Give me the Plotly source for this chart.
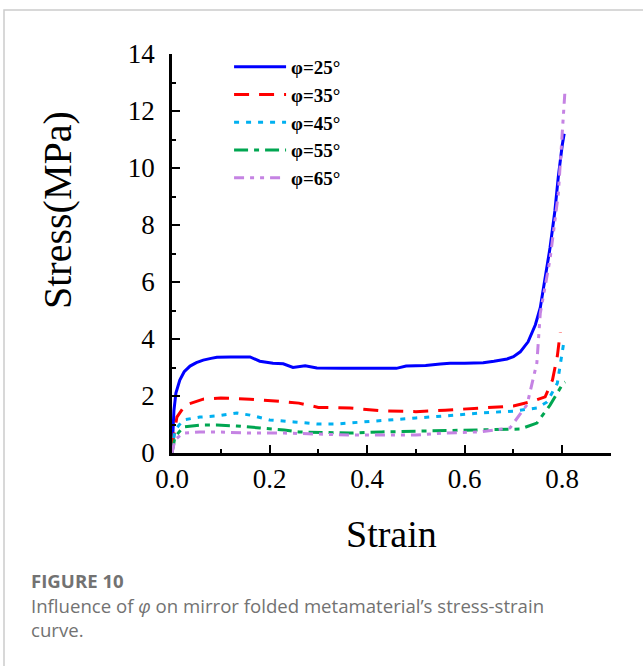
import plotly.graph_objects as go

# ---- data ----
names = ["φ=25°", "φ=35°", "φ=45°", "φ=55°", "φ=65°"]

x25 = [0.0, 0.004, 0.008, 0.016, 0.025, 0.037, 0.05, 0.064, 0.08, 0.092, 0.12, 0.16, 0.18, 0.207, 0.228, 0.248, 0.273, 0.297, 0.35, 0.40, 0.46, 0.48, 0.52, 0.55, 0.57, 0.60, 0.638, 0.66, 0.687, 0.70, 0.714, 0.73, 0.745, 0.755, 0.765, 0.775, 0.785, 0.792, 0.80, 0.804]
y25 = [0.0, 1.5, 2.1, 2.56, 2.85, 3.05, 3.17, 3.26, 3.32, 3.36, 3.37, 3.37, 3.22, 3.15, 3.13, 3.0, 3.06, 2.98, 2.97, 2.97, 2.97, 3.05, 3.07, 3.12, 3.15, 3.15, 3.17, 3.22, 3.3, 3.38, 3.55, 3.9, 4.5, 5.1, 6.1, 7.2, 8.5, 9.7, 10.8, 11.2]

x35 = [0.0, 0.01, 0.027, 0.064, 0.10, 0.13, 0.16, 0.23, 0.26, 0.30, 0.365, 0.43, 0.50, 0.56, 0.63, 0.70, 0.734, 0.765, 0.78, 0.79, 0.796]
y35 = [0.2, 1.26, 1.68, 1.89, 1.93, 1.92, 1.89, 1.8, 1.75, 1.6, 1.58, 1.48, 1.45, 1.5, 1.58, 1.65, 1.79, 1.97, 2.56, 3.4, 4.24]

x45 = [0.0, 0.006, 0.023, 0.057, 0.092, 0.133, 0.16, 0.20, 0.25, 0.297, 0.338, 0.39, 0.43, 0.50, 0.56, 0.63, 0.70, 0.748, 0.769, 0.79, 0.803]
y45 = [0.1, 0.8, 1.16, 1.26, 1.3, 1.4, 1.33, 1.16, 1.09, 1.02, 1.02, 1.09, 1.16, 1.23, 1.3, 1.4, 1.47, 1.58, 1.79, 2.45, 3.86]

x55 = [0.0, 0.006, 0.023, 0.057, 0.092, 0.133, 0.18, 0.23, 0.26, 0.365, 0.43, 0.50, 0.56, 0.63, 0.714, 0.748, 0.775, 0.802, 0.806]
y55 = [0.0, 0.56, 0.91, 0.98, 0.98, 0.95, 0.88, 0.81, 0.74, 0.7, 0.74, 0.76, 0.8, 0.81, 0.84, 1.05, 1.68, 2.45, 2.49]

x65 = [0.0, 0.006, 0.023, 0.057, 0.092, 0.16, 0.23, 0.297, 0.365, 0.43, 0.50, 0.56, 0.63, 0.693, 0.728, 0.748, 0.755, 0.775, 0.792, 0.806]
y65 = [0.0, 0.46, 0.7, 0.74, 0.74, 0.7, 0.7, 0.67, 0.63, 0.63, 0.63, 0.7, 0.74, 0.88, 1.7, 3.16, 4.9, 6.8, 9.1, 12.8]

x_ticks = [0.0, 0.2, 0.4, 0.6, 0.8]
x_tick_text = ["0.0", "0.2", "0.4", "0.6", "0.8"]
y_ticks = [0, 2, 4, 6, 8, 10, 12, 14]

series = [(x25, y25), (x35, y35), (x45, y45), (x55, y55), (x65, y65)]
colors = ["#0000FF", "#FF0000", "#00B0F0", "#00A651", "#C583E3"]
dashes = ["solid", "15px,10px", "5px,7px", "14px,6px,5px,6px", "10px,6px,4px,6px,4px,6px"]

fig = go.Figure()
for (xs, ys), nm, c, d in zip(series, names, colors, dashes):
    fig.add_trace(go.Scatter(x=xs, y=ys, mode="lines", name=nm,
                             line=dict(color=c, width=3, dash=d)))

serif = "Liberation Serif, Times New Roman, serif"
W, H = 643, 666
L, R, T, B = 172, 32, 54, 213
pw, ph = W - L - R, H - T - B

def px2paper(px, py):
    return (px - L) / pw, (H - B - py) / ph

fig.update_layout(
    width=W, height=H,
    margin=dict(l=L, r=R, t=T, b=B),
    paper_bgcolor="white", plot_bgcolor="white",
    showlegend=True,
    legend=dict(x=0.13, y=1.015, xanchor="left", yanchor="top",
                bgcolor="rgba(0,0,0,0)", itemwidth=52,
                font=dict(family=serif, size=19, color="black", weight="bold"),
                tracegroupgap=0),
    xaxis=dict(range=[0, 0.9], tickvals=x_ticks, ticktext=x_tick_text,
               ticks="inside", ticklen=8, tickwidth=2, tickcolor="black",
               minor=dict(ticks="inside", ticklen=4, tickwidth=2, dtick=0.1, tickcolor="black"),
               showline=True, linecolor="black", linewidth=2.5, showgrid=False, zeroline=False,
               tickfont=dict(family=serif, size=27, color="black")),
    yaxis=dict(range=[0, 14], tickvals=y_ticks,
               ticks="inside", ticklen=8, tickwidth=2, tickcolor="black",
               minor=dict(ticks="inside", ticklen=4, tickwidth=2, dtick=1, tickcolor="black"),
               showline=True, linecolor="black", linewidth=2.5, showgrid=False, zeroline=False,
               ticklabelstandoff=9,
               tickfont=dict(family=serif, size=27, color="black")),
)

# axis titles
ax, ay = px2paper(57, 210)
fig.add_annotation(xref="paper", yref="paper", x=ax, y=ay, text="Stress(MPa)", showarrow=False,
                   textangle=-90, font=dict(family=serif, size=40, color="black"),
                   xanchor="center", yanchor="middle")
sx, sy = px2paper(391, 534)
fig.add_annotation(xref="paper", yref="paper", x=sx, y=sy, text="Strain", showarrow=False,
                   font=dict(family=serif, size=38, color="black"),
                   xanchor="center", yanchor="middle")

# caption
cap = "Open Sans, Noto Sans, sans-serif"
for txt, py, bold in [("FIGURE 10", 580, True),
                      ("Influence of <i>φ</i> on mirror folded metamaterial’s stress-strain", 605, False),
                      ("curve.", 629, False)]:
    cx, cy = px2paper(29, py)
    fig.add_annotation(xref="paper", yref="paper", x=cx, y=cy, text=txt, showarrow=False,
                       xanchor="left", yanchor="middle",
                       font=dict(family=cap, size=18.6, color="#727272", weight="bold" if bold else "normal"))

# card border
bx0, by0 = px2paper(4, 10)
bx1, by1 = px2paper(700, 720)
fig.add_shape(type="rect", xref="paper", yref="paper", x0=bx0, y0=by1, x1=bx1, y1=by0,
              line=dict(color="#cccccc", width=1.5), layer="below")

fig.write_html("out.html", config={"displayModeBar": False},
               post_script="document.body.style.margin='0';document.body.style.overflow='hidden';")
